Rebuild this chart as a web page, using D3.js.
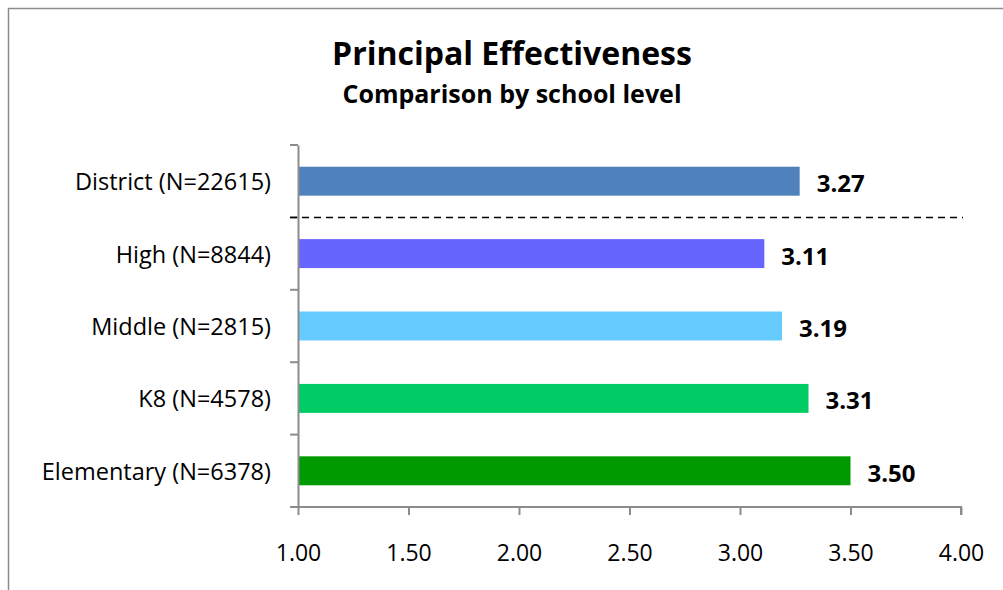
<!DOCTYPE html>
<html>
<head>
<meta charset="utf-8">
<script src="https://cdn.jsdelivr.net/npm/d3@7"></script>
<style>
  body { margin: 0; background: #fff; }
  svg { display: block; font-family: "Open Sans", sans-serif; }
</style>
</head>
<body>
<svg id="chart" width="1003" height="590"></svg>
<script>
const categories = ['District (N=22615)', 'High (N=8844)', 'Middle (N=2815)', 'K8 (N=4578)', 'Elementary (N=6378)'];
const values = [3.27, 3.11, 3.19, 3.31, 3.50];
const barColors = ['#4f81bd', '#6666ff', '#66ccff', '#00cc66', '#009900'];
const xTicks = [1.00, 1.50, 2.00, 2.50, 3.00, 3.50, 4.00];

const svg = d3.select('#chart');
const font = '"Open Sans", sans-serif';

// outer frame
svg.append('rect')
    .attr('x', 8.5).attr('y', 8.5)
    .attr('width', 1100).attr('height', 700)
    .attr('fill', 'none').attr('stroke', '#8c8c8c').attr('stroke-width', 1.5);

const x = d3.scaleLinear().domain([1, 4]).range([298, 961]);
const y = d3.scaleBand().domain(categories).range([145, 507]).paddingInner(0.6).paddingOuter(0.3);

// titles
svg.append('text').attr('x', 512).attr('y', 65)
    .attr('text-anchor', 'middle').attr('font-size', 32).attr('font-weight', 'bold')
    .text('Principal Effectiveness');
svg.append('text').attr('x', 512).attr('y', 103)
    .attr('text-anchor', 'middle').attr('font-size', 25).attr('font-weight', 'bold')
    .text('Comparison by school level');

// bars
svg.selectAll('rect.bar').data(categories).enter().append('rect')
    .attr('class', 'bar')
    .attr('x', x(1))
    .attr('y', d => y(d))
    .attr('width', (d, i) => x(values[i]) - x(1))
    .attr('height', y.bandwidth())
    .attr('fill', (d, i) => barColors[i]);

// value labels
svg.selectAll('text.val').data(categories).enter().append('text')
    .attr('class', 'val')
    .attr('x', (d, i) => x(values[i]) + 17)
    .attr('y', d => y(d) + y.bandwidth() / 2 + 11)
    .attr('font-size', 24).attr('font-weight', 'bold')
    .text((d, i) => values[i].toFixed(2));

// axes
const yAxis = d3.axisLeft(y).tickSize(0).tickPadding(27);
const gy = svg.append('g').attr('transform', `translate(${x(1)},0)`).call(yAxis);
gy.select('.domain').attr('stroke', '#8c8c8c').attr('stroke-width', 2);
gy.selectAll('text').attr('font-size', 23.5).attr('fill', '#000').attr('font-family', font).attr('dy', '0.38em');

// category separator ticks
const sepYs = d3.range(categories.length + 1).map(i => 145 + i * (507 - 145) / categories.length);
svg.selectAll('line.sep').data(sepYs).enter().append('line')
    .attr('class', 'sep')
    .attr('x1', x(1) - 8).attr('x2', x(1))
    .attr('y1', d => d).attr('y2', d => d)
    .attr('stroke', '#8c8c8c').attr('stroke-width', 2);

const xAxis = d3.axisBottom(x).tickValues(xTicks).tickFormat(d3.format('.2f')).tickSize(8).tickPadding(30);
const gx = svg.append('g').attr('transform', 'translate(0,507)').call(xAxis);
gx.select('.domain').attr('stroke', '#8c8c8c').attr('stroke-width', 2).attr('d', `M${x(1) - 8},0H${x(4)}V8`);
gx.selectAll('.tick line').attr('stroke', '#8c8c8c').attr('stroke-width', 2);
gx.selectAll('text').attr('font-size', 23).attr('fill', '#000').attr('font-family', font);

// dashed line between district and school levels
svg.append('line')
    .attr('x1', x(1) - 8).attr('x2', 963)
    .attr('y1', sepYs[1]).attr('y2', sepYs[1])
    .attr('stroke', '#000').attr('stroke-width', 1.5).attr('stroke-dasharray', '7,5');
</script>
</body>
</html>
